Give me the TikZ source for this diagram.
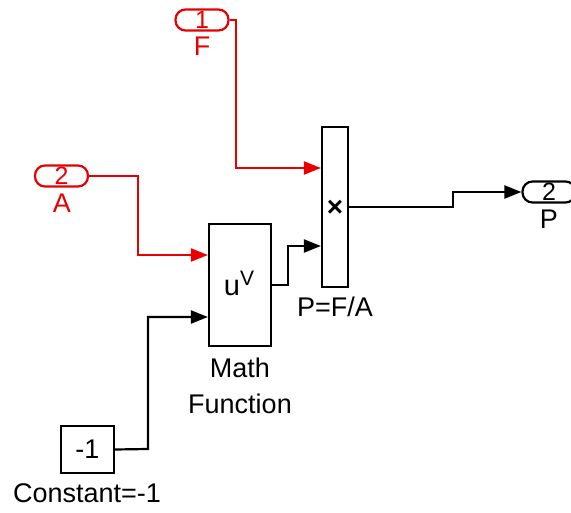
\documentclass[tikz,border=0pt]{standalone}
\usepackage{fontspec}
\setmainfont{Liberation Sans}
\usetikzlibrary{arrows.meta}
\definecolor{sred}{RGB}{232,0,0}
\begin{document}
\begin{tikzpicture}[x=1pt,y=-1pt,
  blk/.style={draw,line width=2.2pt,inner sep=0pt},
  port/.style={draw=sred,line width=2.2pt,rounded corners=10pt,minimum width=53pt,minimum height=21pt,inner sep=0pt},
  lbl/.style={inner sep=0pt,font=\fontsize{27}{30}\selectfont},
  num/.style={inner sep=0pt,font=\fontsize{25}{28}\selectfont},
  wire/.style={line width=2.2pt,-{Triangle[length=17pt,width=13pt]}}]
\useasboundingbox (0,0) rectangle (571,513);
\begin{scope}
\clip (0,0) rectangle (571,513);
% ports
\node[port] (in1) at (202,20) {};
\node[num,text=sred] at (in1) {1};
\node[lbl,text=sred] (lF) at (202,46) {F};
\node[port] (in2) at (61.5,176) {};
\node[num,text=sred] at (in2) {2};
\node[lbl,text=sred] (lA) at (62,203) {A};
\node[port,draw=black] (out) at (549,192) {};
\node[num] at (549,192) {2};
\node[lbl] (lP) at (549,219) {P};
% blocks
\node[blk,minimum width=62pt,minimum height=122pt] (mf) at (240,285) {};
\node[inner sep=0pt] at (239,283) {\fontsize{29}{30}\selectfont u\raisebox{10pt}{\fontsize{21}{22}\selectfont V}};
\node[lbl] (lM1) at (240,368) {Math};
\node[lbl] (lM2) at (240,404) {Function};
\node[blk,minimum width=26pt,minimum height=160pt] (prod) at (335,207) {};
\node[inner sep=0pt,font=\fontsize{28}{30}\selectfont\bfseries] at (335,208) {×};
\node[lbl] (lprod) at (335,307) {P=F/A};
\node[blk,minimum width=53pt,minimum height=47pt] (cst) at (87.5,449.5) {};
\node[lbl] at (cst) {-1};
\node[lbl] (lcst) at (87,493) {Constant=-1};
% wires
\draw[wire,sred] (in1.east) -- (236,20) -- (236,168) -- (prod.west |- 0,168);
\draw[wire,sred] (in2.east) -- (138,176) -- (138,255) -- (mf.west |- 0,255);
\draw[wire] (cst.east) -- (148,449) -- (148,317) -- (mf.west |- 0,317);
\draw[wire] (mf.east |- 0,285) -- (288,285) -- (288,246) -- (prod.west |- 0,246);
\draw[wire] (prod.east |- 0,207) -- (453,207) -- (453,192) -- (out.west);
\end{scope}
\end{tikzpicture}
\end{document}
